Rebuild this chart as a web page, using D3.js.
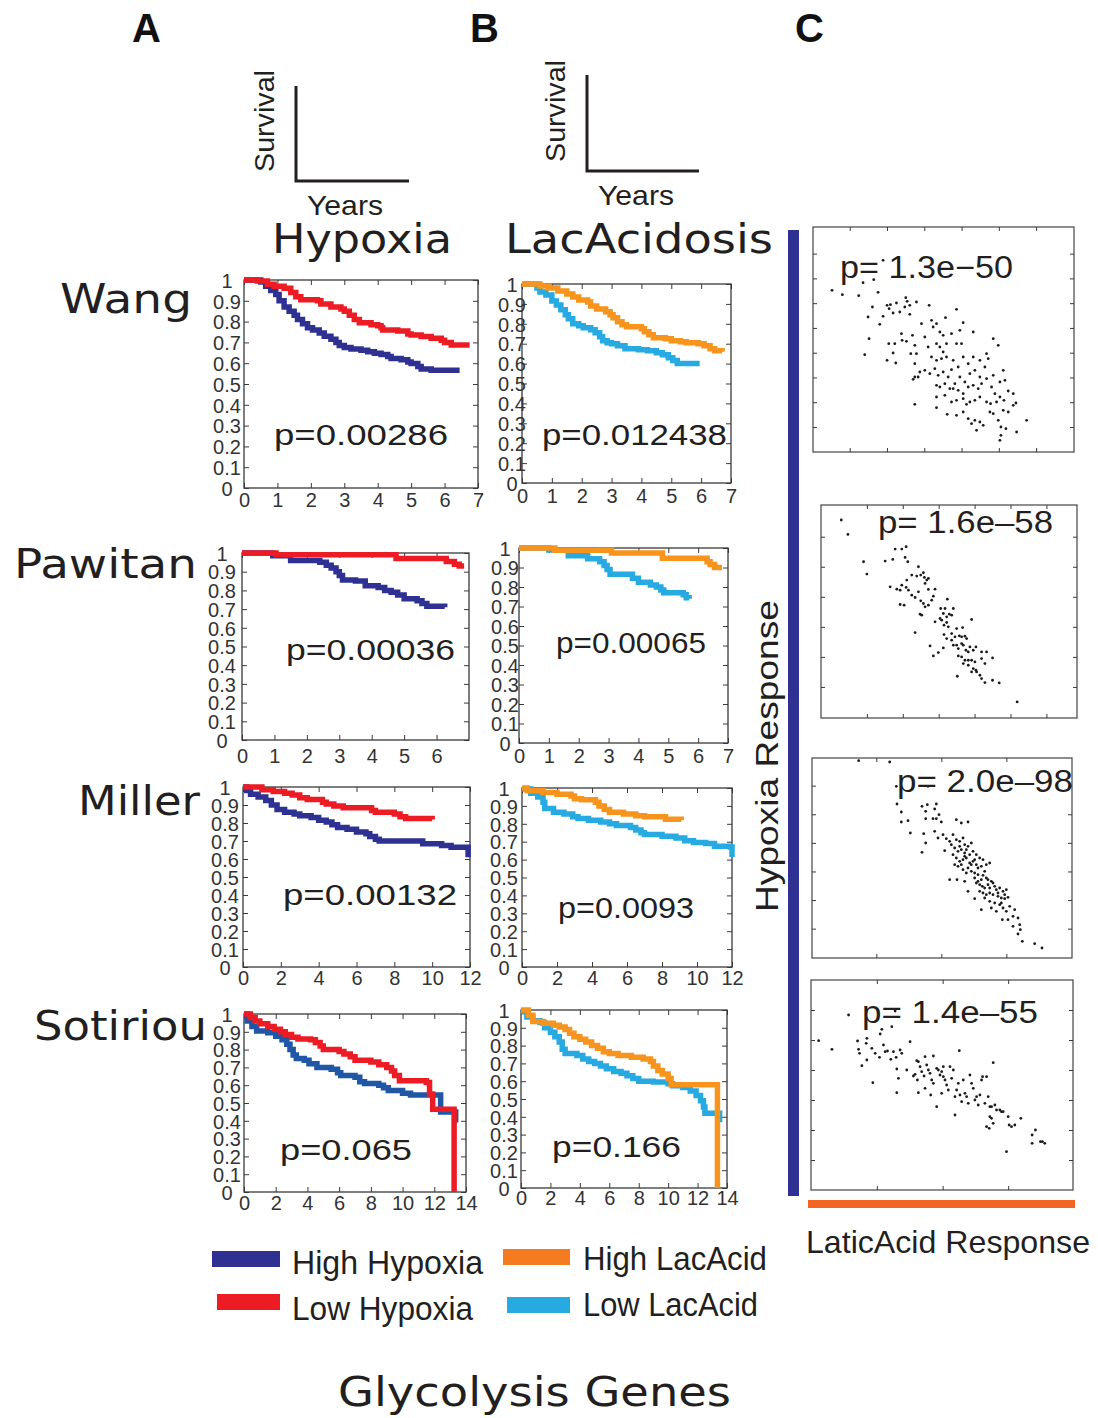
<!DOCTYPE html>
<html>
<head>
<meta charset="utf-8">
<script src="https://cdn.jsdelivr.net/npm/d3@7"></script>
<style>
  body { margin: 0; background: #fff; }
  svg { display: block; }
</style>
</head>
<body>
<svg id="fig" width="1098" height="1418"></svg>
<script>
// ---------------- data ----------------
const cohorts = ['Wang', 'Pawitan', 'Miller', 'Sotiriou']
const hypoxiaP = ['p=0.00286', 'p=0.00036', 'p=0.00132', 'p=0.065']
const lacP = ['p=0.012438', 'p=0.00065', 'p=0.0093', 'p=0.166']
const yearsMax = [7, 7, 12, 14]
const hypoxiaYearTicks = [[0, 1, 2, 3, 4, 5, 6, 7], [0, 1, 2, 3, 4, 5, 6], [0, 2, 4, 6, 8, 10, 12], [0, 2, 4, 6, 8, 10, 12, 14]]
const lacYearTicks = [[0, 1, 2, 3, 4, 5, 6, 7], [0, 1, 2, 3, 4, 5, 6, 7], [0, 2, 4, 6, 8, 10, 12], [0, 2, 4, 6, 8, 10, 12, 14]]
const survivalTicks = [0, 0.1, 0.2, 0.3, 0.4, 0.5, 0.6, 0.7, 0.8, 0.9, 1]
const legendLabels = ['High Hypoxia', 'Low Hypoxia', 'High LacAcid', 'Low LacAcid']

// Kaplan-Meier steps: [years, fraction surviving]
const wangHighHypoxia = [[0,1],[0.5,0.99],[0.65,0.97],[0.8,0.95],[0.95,0.93],[1.05,0.9],[1.2,0.87],[1.35,0.85],[1.5,0.83],[1.6,0.81],[1.75,0.79],[1.9,0.77],[2.05,0.76],[2.25,0.745],[2.4,0.73],[2.6,0.715],[2.75,0.7],[2.85,0.685],[3.0,0.675],[3.2,0.668],[3.5,0.662],[3.7,0.655],[3.9,0.648],[4.1,0.642],[4.3,0.632],[4.4,0.622],[4.7,0.616],[4.9,0.606],[5.0,0.598],[5.2,0.584],[5.3,0.572],[5.6,0.566],[6.45,0.566]]
const wangLowHypoxia = [[0,1],[0.4,0.995],[0.7,0.98],[0.9,0.97],[1.2,0.96],[1.4,0.94],[1.55,0.92],[1.7,0.905],[2.2,0.9],[2.3,0.885],[2.6,0.87],[2.9,0.86],[3.0,0.85],[3.15,0.83],[3.3,0.81],[3.45,0.795],[3.8,0.785],[4.0,0.78],[4.1,0.77],[4.15,0.76],[4.6,0.755],[4.9,0.74],[5.0,0.735],[5.3,0.728],[5.6,0.72],[5.9,0.71],[6.0,0.7],[6.2,0.688],[6.75,0.688]]
const wangHighLac = [[0,1],[0.6,0.99],[0.9,0.98],[1.2,0.965],[1.5,0.95],[1.7,0.935],[1.9,0.92],[2.2,0.91],[2.3,0.89],[2.5,0.875],[2.8,0.86],[2.95,0.845],[3.05,0.83],[3.2,0.81],[3.35,0.795],[3.5,0.785],[4.0,0.775],[4.1,0.76],[4.25,0.745],[4.4,0.73],[4.8,0.725],[5.0,0.715],[5.3,0.71],[5.5,0.705],[5.9,0.7],[6.1,0.69],[6.3,0.675],[6.45,0.665],[6.7,0.66]]
const wangLowLac = [[0,1],[0.5,0.98],[0.6,0.96],[0.8,0.945],[1.0,0.915],[1.15,0.895],[1.3,0.87],[1.45,0.845],[1.55,0.825],[1.7,0.8],[1.9,0.79],[2.05,0.78],[2.3,0.77],[2.45,0.755],[2.6,0.735],[2.7,0.715],[2.85,0.705],[3.0,0.7],[3.2,0.69],[3.45,0.675],[3.9,0.67],[4.2,0.665],[4.5,0.655],[4.7,0.645],[4.9,0.63],[5.05,0.615],[5.2,0.6],[5.95,0.6]]
const pawitanHighHypoxia = [[0,1],[0.95,0.985],[1.5,0.96],[2.4,0.95],[2.6,0.935],[2.75,0.92],[2.9,0.9],[3.0,0.88],[3.1,0.855],[3.5,0.85],[3.8,0.825],[4.2,0.815],[4.4,0.8],[4.6,0.79],[4.8,0.775],[5.0,0.755],[5.4,0.745],[5.55,0.73],[5.7,0.715],[6.25,0.71]]
const pawitanLowHypoxia = [[0,1],[1.05,0.99],[4.75,0.97],[6.3,0.955],[6.55,0.94],[6.7,0.93],[6.85,0.93]]
const pawitanHighLac = [[0,1],[1.2,0.988],[3.1,0.975],[4.8,0.948],[6.3,0.93],[6.4,0.915],[6.55,0.9],[6.8,0.9]]
const pawitanLowLac = [[0,1],[1.0,0.99],[1.65,0.96],[2.3,0.945],[2.7,0.93],[2.85,0.91],[2.95,0.89],[3.05,0.865],[3.8,0.845],[4.0,0.825],[4.4,0.81],[4.6,0.8],[4.75,0.785],[4.85,0.77],[5.5,0.76],[5.6,0.745],[5.7,0.74]]
const millerHighHypoxia = [[0,1],[0.2,0.98],[0.4,0.96],[0.8,0.945],[1.2,0.925],[1.5,0.9],[1.8,0.875],[2.2,0.86],[2.7,0.85],[3.0,0.84],[3.6,0.83],[4.0,0.815],[4.4,0.805],[4.7,0.79],[5.0,0.775],[5.5,0.765],[6.0,0.75],[6.5,0.74],[6.7,0.725],[7.0,0.71],[7.2,0.7],[9.5,0.685],[10.5,0.675],[11.0,0.665],[11.9,0.61]]
const millerLowHypoxia = [[0,1],[1.0,0.985],[1.6,0.975],[2.2,0.965],[2.6,0.955],[3.0,0.94],[3.4,0.93],[4.2,0.915],[4.4,0.905],[4.8,0.895],[5.3,0.885],[6.8,0.87],[7.0,0.86],[8.0,0.85],[8.3,0.835],[8.6,0.825],[10.0,0.82]]
const millerHighLac = [[0,1],[0.3,0.985],[1.2,0.975],[2.0,0.965],[2.8,0.955],[3.0,0.94],[3.4,0.935],[4.2,0.92],[4.4,0.9],[4.7,0.88],[5.0,0.865],[5.8,0.855],[6.5,0.845],[7.0,0.84],[8.2,0.825],[9.1,0.82]]
const millerLowLac = [[0,0.995],[0.5,0.97],[0.9,0.95],[1.2,0.92],[1.3,0.885],[1.8,0.865],[2.4,0.855],[2.9,0.84],[3.2,0.83],[3.8,0.82],[4.5,0.81],[5.0,0.8],[5.4,0.79],[6.2,0.78],[6.5,0.765],[6.8,0.75],[7.0,0.74],[8.0,0.73],[8.8,0.72],[9.3,0.705],[9.8,0.695],[10.5,0.69],[11.0,0.675],[11.9,0.67],[12.0,0.615]]
const sotiriouHighHypoxia = [[0,1],[0.2,0.96],[0.5,0.93],[0.8,0.905],[1.5,0.895],[2.0,0.875],[2.4,0.855],[2.7,0.83],[2.9,0.8],[3.1,0.77],[3.3,0.75],[3.8,0.74],[4.1,0.72],[4.6,0.7],[5.5,0.69],[5.9,0.67],[6.1,0.655],[7.0,0.645],[7.3,0.62],[7.6,0.61],[8.5,0.6],[8.8,0.585],[9.1,0.57],[10.0,0.555],[10.5,0.545],[12.3,0.545],[12.4,0.45],[13.3,0.45],[13.35,0.39]]
const sotiriouLowHypoxia = [[0,1],[0.4,0.98],[0.7,0.96],[1.0,0.945],[1.5,0.93],[1.9,0.915],[2.3,0.9],[2.6,0.885],[3.0,0.87],[3.4,0.86],[4.2,0.855],[4.5,0.84],[4.8,0.82],[5.0,0.8],[6.0,0.79],[6.3,0.775],[6.7,0.76],[7.0,0.74],[8.0,0.73],[8.5,0.715],[9.0,0.7],[9.3,0.68],[9.5,0.655],[9.8,0.625],[11.5,0.615],[11.7,0.55],[11.9,0.465],[13.2,0.465],[13.25,0]]
const sotiriouHighLac = [[0,1],[0.5,0.97],[0.8,0.935],[1.5,0.925],[2.2,0.915],[2.6,0.905],[3.0,0.89],[3.3,0.87],[3.6,0.85],[4.0,0.835],[4.4,0.82],[4.8,0.8],[5.2,0.785],[5.6,0.765],[6.0,0.755],[6.6,0.745],[7.5,0.735],[8.3,0.725],[8.8,0.71],[9.0,0.685],[9.3,0.66],[9.6,0.64],[10.0,0.615],[10.2,0.58],[13.3,0.58],[13.35,0]]
const sotiriouLowLac = [[0,0.99],[0.4,0.96],[0.8,0.94],[1.3,0.93],[1.6,0.9],[2.0,0.875],[2.3,0.85],[2.6,0.82],[2.8,0.78],[3.0,0.755],[3.8,0.745],[4.2,0.725],[4.6,0.71],[5.0,0.7],[5.4,0.685],[5.8,0.67],[6.3,0.655],[6.8,0.645],[7.2,0.63],[7.6,0.615],[8.0,0.6],[9.0,0.595],[10.0,0.585],[10.3,0.575],[11.0,0.565],[11.5,0.545],[11.9,0.52],[12.2,0.49],[12.4,0.455],[12.5,0.42],[13.5,0.37]]

// panel C: [lactic acid response, hypoxia response] per tumour
const scatterP = ['p= 1.3e\u221250', 'p= 1.6e\u201358', 'p= 2.0e\u201398', 'p= 1.4e\u201355']
const wangScatter = [[0.97,4.90],[1.28,4.77],[1.77,4.74],[1.90,5.13],[2.22,5.22],[2.35,4.84],[2.18,4.40],[2.05,4.10],[2.08,3.45],[1.95,2.97],[2.40,3.88],[2.50,4.12],[2.62,4.45],[2.68,4.35],[2.72,4.47],[2.90,4.52],[2.80,4.22],[3.18,4.68],[3.22,4.57],[3.30,4.45],[3.15,4.40],[3.50,4.55],[3.88,4.45],[3.00,4.25],[3.30,4.18],[4.70,4.33],[4.37,4.08],[4.90,3.93],[5.20,3.65],[5.80,3.45],[5.95,3.25],[5.60,3.00],[2.67,3.30],[2.85,3.30],[2.80,3.02],[2.62,2.80],[2.88,2.72],[3.05,3.60],[3.07,3.40],[3.20,3.37],[3.38,3.55],[3.45,3.25],[3.33,3.00],[3.50,3.00],[3.65,3.90],[3.75,3.50],[3.85,3.20],[3.95,4.00],[4.00,3.80],[4.10,3.90],[4.20,3.65],[4.30,3.55],[4.10,3.30],[4.20,3.20],[4.30,3.05],[4.40,3.30],[4.55,3.60],[4.80,3.70],[4.70,3.30],[4.85,3.30],[3.95,2.90],[4.10,2.80],[4.25,2.85],[4.40,2.90],[4.60,2.80],[4.75,2.60],[4.90,2.90],[5.05,2.70],[5.20,2.90],[5.40,2.80],[5.65,2.85],[5.80,2.35],[6.10,2.50],[3.45,2.70],[3.60,2.45],[3.75,2.50],[3.45,2.30],[3.40,2.23],[3.55,2.30],[3.90,2.40],[4.05,2.55],[4.15,2.35],[4.30,2.45],[4.45,2.30],[4.55,2.52],[4.65,2.10],[4.80,2.30],[4.95,2.15],[5.10,2.40],[5.25,2.50],[5.40,2.30],[5.55,2.60],[4.10,2.05],[4.20,2.00],[4.35,2.10],[4.50,1.95],[4.60,1.95],[4.75,1.90],[4.90,1.80],[5.05,2.00],[5.20,2.05],[5.35,1.95],[5.45,2.10],[5.60,2.25],[5.75,2.00],[5.85,1.80],[6.00,2.15],[6.15,2.20],[6.25,1.88],[6.40,1.80],[6.48,1.52],[4.10,1.70],[4.35,1.75],[4.55,1.55],[4.70,1.60],[4.90,1.65],[5.00,1.48],[5.10,1.55],[5.25,1.60],[5.40,1.70],[5.60,1.55],[5.72,1.50],[5.90,1.55],[6.00,1.70],[6.12,1.60],[3.45,1.48],[4.10,1.38],[4.42,1.18],[4.70,1.15],[4.90,1.25],[5.05,1.05],[5.15,0.90],[5.25,1.00],[5.40,0.95],[5.50,0.85],[5.70,1.25],[5.80,1.20],[5.95,1.00],[6.10,1.30],[6.25,1.25],[6.40,1.45],[5.30,0.70],[6.03,0.80],[6.03,0.55],[6.18,0.75],[6.00,0.40],[6.50,0.65],[6.80,1.00],[2.50,5.80]]
const pawitanScatter = [[1.23,6.10],[1.43,5.67],[1.90,4.85],[2.00,4.48],[2.55,4.87],[2.78,4.92],[2.85,5.23],[3.05,5.23],[3.18,5.30],[3.15,4.98],[3.23,4.85],[2.70,4.10],[2.90,4.03],[3.00,4.00],[3.05,4.15],[3.20,4.30],[3.18,4.08],[3.25,4.00],[3.00,3.57],[3.12,3.55],[3.35,4.45],[3.50,4.42],[3.55,4.70],[3.62,4.45],[3.70,4.52],[3.73,4.38],[3.80,4.30],[3.85,4.35],[3.75,4.20],[3.85,4.02],[4.05,4.03],[3.35,3.85],[3.45,3.78],[3.55,3.95],[3.62,3.68],[3.70,3.60],[3.75,3.50],[3.85,3.55],[3.95,3.70],[4.00,3.82],[3.60,3.28],[3.65,3.25],[3.45,2.73],[3.90,2.33],[4.00,2.03],[4.15,2.13],[4.30,2.27],[4.22,3.45],[4.35,3.45],[4.42,3.73],[4.30,3.30],[4.40,3.20],[4.48,3.28],[4.05,3.05],[4.20,3.15],[4.25,3.10],[4.32,2.95],[4.40,3.03],[4.55,3.25],[4.60,3.45],[4.45,2.90],[4.55,2.70],[4.65,2.60],[4.78,2.63],[4.88,2.88],[5.15,3.12],[4.70,2.85],[4.85,2.60],[4.95,2.62],[5.00,2.55],[4.32,2.67],[4.40,2.55],[4.55,2.50],[4.60,2.35],[4.70,2.35],[4.75,2.25],[4.85,2.40],[4.90,2.35],[4.98,2.20],[5.05,2.15],[5.10,2.30],[5.20,2.20],[5.28,2.30],[5.45,2.15],[5.60,2.15],[4.75,2.03],[4.85,2.00],[4.95,1.90],[5.05,1.90],[5.15,1.90],[5.25,1.85],[5.45,1.95],[5.78,1.97],[4.90,1.80],[5.05,1.75],[5.20,1.65],[5.30,1.55],[5.40,1.45],[5.55,1.80],[4.72,1.42],[5.15,1.55],[5.45,1.35],[5.55,1.23],[5.78,1.30],[5.98,1.22],[6.52,0.65],[5.28,1.60]]
const millerScatter = [[1.77,6.52],[2.70,6.48],[2.90,5.75],[3.85,5.75],[2.92,5.22],[3.05,4.98],[3.05,4.68],[3.25,4.72],[3.32,4.35],[3.67,5.15],[3.83,5.20],[3.78,5.00],[3.78,4.78],[3.72,4.33],[3.78,4.05],[3.67,3.77],[4.10,5.22],[4.05,5.07],[4.00,4.78],[4.10,4.78],[4.18,4.90],[4.05,4.40],[4.15,4.20],[4.25,4.68],[4.30,4.30],[4.70,4.75],[4.85,4.65],[5.05,4.68],[4.40,4.18],[4.50,4.10],[4.55,4.00],[4.35,3.82],[4.60,4.30],[4.70,4.15],[4.80,4.10],[4.90,4.20],[4.95,4.00],[4.65,3.90],[4.75,3.80],[4.85,3.85],[4.95,3.75],[5.05,3.95],[5.15,4.05],[5.20,3.80],[5.30,3.70],[5.40,3.60],[5.50,3.55],[4.70,3.60],[4.80,3.50],[4.90,3.55],[5.00,3.60],[5.10,3.45],[5.20,3.50],[5.30,3.40],[5.45,3.35],[5.60,3.40],[5.70,3.45],[4.75,3.35],[4.90,3.25],[5.05,3.30],[5.15,3.20],[5.25,3.15],[5.35,3.10],[5.50,3.08],[4.65,3.40],[4.50,2.95],[4.72,2.95],[4.95,2.90],[5.05,2.60],[5.25,3.00],[5.35,2.90],[5.40,2.80],[5.48,2.75],[5.55,2.70],[5.65,2.80],[5.75,2.90],[5.85,2.75],[5.90,2.65],[6.00,2.70],[6.10,2.60],[6.20,2.65],[5.40,2.60],[5.50,2.55],[5.60,2.50],[5.70,2.55],[5.80,2.50],[5.95,2.45],[6.05,2.40],[6.15,2.38],[5.55,2.40],[5.70,2.30],[5.85,2.25],[6.00,2.20],[6.10,2.10],[6.25,2.42],[5.25,2.38],[5.45,2.05],[5.75,2.10],[5.90,2.00],[6.20,2.00],[6.30,2.15],[6.45,2.05],[6.08,1.75],[6.25,1.75],[6.40,1.85],[6.55,1.80],[6.60,1.60],[6.40,1.55],[6.62,1.45],[6.55,1.32],[6.68,1.10],[7.05,1.03],[7.27,0.90],[4.80,3.95],[4.95,3.65],[5.10,3.70],[5.25,3.55],[5.35,3.30],[5.55,3.20],[5.60,3.00],[5.45,2.95],[5.70,2.70],[5.95,2.55],[6.05,2.25],[5.15,3.40],[4.60,3.70],[4.85,3.40],[5.00,3.15],[5.65,2.95],[5.80,2.85],[6.15,2.50],[5.30,2.85],[5.00,3.85]]
const sotiriouScatter = [[0.55,4.88],[0.95,4.62],[1.45,5.65],[1.72,4.87],[1.75,4.62],[1.78,4.50],[1.85,4.13],[1.98,4.80],[2.00,4.95],[2.00,4.30],[2.15,4.65],[2.18,3.62],[2.25,4.50],[2.38,4.38],[2.40,5.08],[2.45,5.22],[2.50,4.75],[2.55,4.55],[2.62,4.57],[2.72,4.32],[2.75,5.30],[2.80,4.55],[2.85,5.77],[2.88,4.38],[2.90,3.32],[2.90,4.03],[2.95,3.75],[3.00,4.60],[3.05,4.50],[3.20,4.00],[3.30,4.85],[3.40,3.82],[3.45,3.87],[3.50,4.28],[3.55,4.25],[3.52,3.70],[3.55,3.32],[3.60,4.10],[3.65,3.95],[3.72,3.82],[3.75,3.45],[3.75,4.40],[3.80,4.15],[3.85,4.00],[3.90,3.90],[3.92,3.25],[3.95,3.70],[4.00,4.42],[4.00,3.60],[4.10,4.05],[4.10,2.90],[4.15,4.00],[4.20,3.85],[4.25,3.95],[4.25,3.30],[4.30,4.10],[4.30,3.80],[4.35,3.70],[4.40,3.55],[4.45,3.40],[4.50,4.10],[4.55,3.75],[4.60,4.00],[4.65,3.20],[4.65,2.65],[4.70,3.40],[4.75,3.60],[4.78,4.58],[4.80,3.25],[4.85,3.05],[4.90,3.70],[4.95,3.30],[5.00,3.20],[5.05,3.00],[5.10,3.85],[5.15,3.60],[5.20,3.45],[5.25,3.10],[5.30,3.20],[5.35,2.95],[5.40,3.25],[5.45,3.70],[5.48,3.80],[5.55,3.00],[5.60,3.80],[5.65,3.20],[5.70,2.90],[5.75,2.90],[5.70,2.60],[5.80,4.22],[5.85,2.95],[5.90,2.80],[5.60,2.30],[5.68,2.25],[5.75,2.55],[5.80,2.40],[6.00,2.80],[6.05,2.75],[6.10,2.75],[6.20,1.55],[6.25,2.60],[6.28,2.35],[6.35,2.30],[6.45,2.35],[6.63,2.55],[6.97,2.05],[6.97,1.80],[7.07,2.20],[7.22,1.85],[7.28,1.85],[7.35,1.80]]

// ---------------- layout ----------------
const navy = '#2e3192', red = '#ed1c24', orange = '#f7941d', sky = '#27aae1', sotBlue = '#1f56a5'
const ink = '#231f20'
const sans = "'Liberation Sans', Arial, Helvetica, sans-serif"
const geo = "'DejaVu Sans', Verdana, sans-serif"

const svg = d3.select('#fig')

function addText(parent, str, x, y, o = {}) {
  const t = parent.append('text')
    .attr('x', x).attr('y', y)
    .attr('font-family', o.family || sans)
    .attr('font-size', o.size || 30)
    .attr('fill', o.fill || ink)
    .attr('text-anchor', o.anchor || 'start')
    .text(str)
  if (o.weight) t.attr('font-weight', o.weight)
  if (o.len) t.attr('textLength', o.len).attr('lengthAdjust', 'spacingAndGlyphs')
  if (o.rotate) t.attr('transform', `rotate(${o.rotate},${x},${y})`)
  return t
}

// panel letters
addText(svg, 'A', 132, 42, { size: 40, weight: 'bold', family: sans, fill: '#111' })
addText(svg, 'B', 470, 42, { size: 40, weight: 'bold', family: sans, fill: '#111' })
addText(svg, 'C', 795, 42, { size: 40, weight: 'bold', family: sans, fill: '#111' })

// little "Survival vs Years" key above columns A and B
const keys = [
  { vx: 296, top: 86, base: 181, right: 409, survX: 274, survY: 121, yearsX: 345, yearsY: 215 },
  { vx: 587, top: 75, base: 171, right: 699, survX: 565, survY: 111, yearsX: 636, yearsY: 205 }
]
keys.forEach(k => {
  svg.append('path')
    .attr('d', `M${k.vx},${k.top}V${k.base}H${k.right}`)
    .attr('fill', 'none').attr('stroke', ink).attr('stroke-width', 3)
  addText(svg, 'Survival', k.survX, k.survY, { size: 28, anchor: 'middle', rotate: -90, len: 102 })
  addText(svg, 'Years', k.yearsX, k.yearsY, { size: 28, anchor: 'middle', len: 76 })
})

addText(svg, 'Hypoxia', 272, 253, { size: 40, family: geo, len: 180 })
addText(svg, 'LacAcidosis', 505, 253, { size: 40, family: geo, len: 268 })

const rowLabelPos = [[60, 313, 132], [14, 578, 183], [78, 815, 122], [34, 1040, 173]]
cohorts.forEach((c, i) => addText(svg, c, rowLabelPos[i][0], rowLabelPos[i][1], { size: 40, family: geo, len: rowLabelPos[i][2] }))

// survival panel boxes [left, top, right, bottom]
const hypoxiaBoxes = [[244, 280, 478, 488], [242, 553, 469, 740], [243, 787, 470, 967], [244, 1014, 466, 1192]]
const lacBoxes = [[522, 284, 731, 483], [519, 548, 728, 743], [522, 788, 732, 967], [521, 1010, 727, 1188]]
const hypoxiaLabelShift = [-17, -20, -18, -17]
const lacLabelShift = [-10, -14, -18, -17]
const hypoxiaXLabelDrop = [19, 23, 18, 18]
const lacXLabelDrop = [20, 20, 18, 17]
// p text: [start x, baseline, width]
const hypoxiaPPos = [[274, 445, 174], [286, 660, 169], [283, 905, 174], [280, 1160, 132]]
const lacPPos = [[542, 445, 185], [556, 653, 150], [558, 918, 136], [552, 1157, 129]]

const hypoxiaCurves = [
  [[wangHighHypoxia, navy], [wangLowHypoxia, red]],
  [[pawitanHighHypoxia, navy], [pawitanLowHypoxia, red]],
  [[millerHighHypoxia, navy], [millerLowHypoxia, red]],
  [[sotiriouHighHypoxia, sotBlue], [sotiriouLowHypoxia, red]]
]
const lacCurves = [
  [[wangLowLac, sky], [wangHighLac, orange]],
  [[pawitanLowLac, sky], [pawitanHighLac, orange]],
  [[millerLowLac, sky], [millerHighLac, orange]],
  [[sotiriouLowLac, sky], [sotiriouHighLac, orange]]
]

const fmtSurv = d => (d === 0 || d === 1) ? String(d) : d3.format('.1f')(d)

function styleAxis(sel) {
  sel.select('.domain').remove()
  sel.selectAll('line').attr('stroke', '#3a3a3a').attr('stroke-width', 1)
  sel.selectAll('text').attr('font-family', sans).attr('font-size', 20).attr('fill', '#333')
}

function drawSurvival(box, xMax, xTicks, labelShift, xDrop, curves, pText, pPos) {
  const [x0, y0, x1, y1] = box
  const x = d3.scaleLinear().domain([0, xMax]).range([x0, x1])
  const y = d3.scaleLinear().domain([0, 1]).range([y1, y0])
  const g = svg.append('g')

  g.append('g').attr('transform', `translate(0,${y1})`)
    .call(d3.axisBottom(x).tickValues(xTicks).tickSize(-5).tickFormat(d3.format('d')))
    .call(styleAxis)
    .selectAll('text').attr('y', xDrop).attr('dy', null)
  g.append('g').attr('transform', `translate(0,${y0})`)
    .call(d3.axisTop(x).tickValues(xTicks).tickSize(-5).tickFormat(''))
    .call(styleAxis)
  g.append('g').attr('transform', `translate(${x0},0)`)
    .call(d3.axisLeft(y).tickValues(survivalTicks).tickSize(-5).tickFormat(fmtSurv))
    .call(styleAxis)
    .selectAll('text').attr('x', labelShift).attr('text-anchor', 'middle').attr('dy', '0.36em')
  g.append('g').attr('transform', `translate(${x1},0)`)
    .call(d3.axisRight(y).tickValues(survivalTicks).tickSize(-5).tickFormat(''))
    .call(styleAxis)

  g.append('rect')
    .attr('x', x0).attr('y', y0).attr('width', x1 - x0).attr('height', y1 - y0)
    .attr('fill', 'none').attr('stroke', '#3a3a3a').attr('stroke-width', 1.3)

  const line = d3.line().x(d => x(d[0])).y(d => y(d[1])).curve(d3.curveStepAfter)
  curves.forEach(([data, color]) => {
    g.append('path').attr('d', line(data))
      .attr('fill', 'none').attr('stroke', color).attr('stroke-width', 5.5)
      .attr('stroke-linejoin', 'miter').attr('stroke-linecap', 'butt')
  })

  addText(g, pText, pPos[0], pPos[1], { size: 29, len: pPos[2] })
}

cohorts.forEach((c, i) => {
  drawSurvival(hypoxiaBoxes[i], yearsMax[i], hypoxiaYearTicks[i], hypoxiaLabelShift[i], hypoxiaXLabelDrop[i], hypoxiaCurves[i], hypoxiaP[i], hypoxiaPPos[i])
  drawSurvival(lacBoxes[i], yearsMax[i], lacYearTicks[i], lacLabelShift[i], lacXLabelDrop[i], lacCurves[i], lacP[i], lacPPos[i])
})

// ---------------- panel C ----------------
const scatterPanels = [
  { data: wangScatter, box: [813, 227, 1074, 452], xd: [0.40, 8.22], yd: [0.05, 6.80],
    xt: d3.range(6).map(i => 1.50 + i * 1.117), yt: d3.range(8).map(i => 0.80 + i * 0.743), p: [840, 278, 173] },
  { data: pawitanScatter, box: [821, 505, 1077, 718], xd: [0.62, 8.32], yd: [0.17, 6.55],
    xt: d3.range(6).map(i => 2.00 + i * 1.08), yt: d3.range(6).map(i => 1.10 + i * 0.90), p: [878, 533, 175] },
  { data: millerScatter, box: [812, 758, 1072, 958], xd: [0.37, 8.17], yd: [0.60, 6.60],
    xt: [2.30, 4.25, 6.20], yt: d3.range(6).map(i => 1.48 + i * 0.858), p: [897, 792, 176] },
  { data: sotiriouScatter, box: [811, 980, 1073, 1190], xd: [0.32, 8.20], yd: [0.40, 6.70],
    xt: [2.30, 4.28, 6.25], yt: d3.range(6).map(i => 1.30 + i * 0.90), p: [862, 1023, 176] }
]

scatterPanels.forEach((s, i) => {
  const [x0, y0, x1, y1] = s.box
  const x = d3.scaleLinear().domain(s.xd).range([x0, x1])
  const y = d3.scaleLinear().domain(s.yd).range([y1, y0])
  const g = svg.append('g')
  g.append('rect').attr('x', x0).attr('y', y0).attr('width', x1 - x0).attr('height', y1 - y0)
    .attr('fill', '#fff').attr('stroke', '#444').attr('stroke-width', 1.2)
  g.append('g').attr('transform', `translate(0,${y1})`)
    .call(d3.axisBottom(x).tickValues(s.xt).tickSize(-4).tickFormat('')).call(styleAxis)
  g.append('g').attr('transform', `translate(0,${y0})`)
    .call(d3.axisTop(x).tickValues(s.xt).tickSize(-4).tickFormat('')).call(styleAxis)
  g.append('g').attr('transform', `translate(${x0},0)`)
    .call(d3.axisLeft(y).tickValues(s.yt).tickSize(-4).tickFormat('')).call(styleAxis)
  g.append('g').attr('transform', `translate(${x1},0)`)
    .call(d3.axisRight(y).tickValues(s.yt).tickSize(-4).tickFormat('')).call(styleAxis)

  g.selectAll('circle.pt').data(s.data).join('circle')
    .attr('class', 'pt')
    .attr('cx', d => x(d[0])).attr('cy', d => y(d[1]))
    .attr('r', 1.4).attr('fill', '#1a1a1a')

  addText(g, scatterP[i], s.p[0], s.p[1], { size: 31, len: s.p[2] })
})

// axis bars for panel C
svg.append('rect').attr('x', 788).attr('y', 230).attr('width', 11).attr('height', 966).attr('fill', navy)
svg.append('rect').attr('x', 808).attr('y', 1200).attr('width', 267).attr('height', 8).attr('fill', '#f26522')
addText(svg, 'Hypoxia Response', 778, 756, { size: 32, anchor: 'middle', rotate: -90, len: 312 })
addText(svg, 'LaticAcid Response', 806, 1253, { size: 32, len: 284 })

// ---------------- legend ----------------
const legendSwatch = [navy, red, '#f47b20', sky]
const legendPos = [
  { bar: [212, 1251, 68], text: [292, 1274, 191] },
  { bar: [217, 1294, 63], text: [292, 1320, 181] },
  { bar: [503, 1249, 67], text: [583, 1270, 184] },
  { bar: [507, 1297, 63], text: [583, 1316, 175] }
]
legendLabels.forEach((lab, i) => {
  const p = legendPos[i]
  svg.append('rect').attr('x', p.bar[0]).attr('y', p.bar[1]).attr('width', p.bar[2]).attr('height', 16).attr('fill', legendSwatch[i])
  addText(svg, lab, p.text[0], p.text[1], { size: 34, len: p.text[2] })
})

addText(svg, 'Glycolysis Genes', 338, 1406, { size: 40, family: geo, len: 393 })
</script>
</body>
</html>
